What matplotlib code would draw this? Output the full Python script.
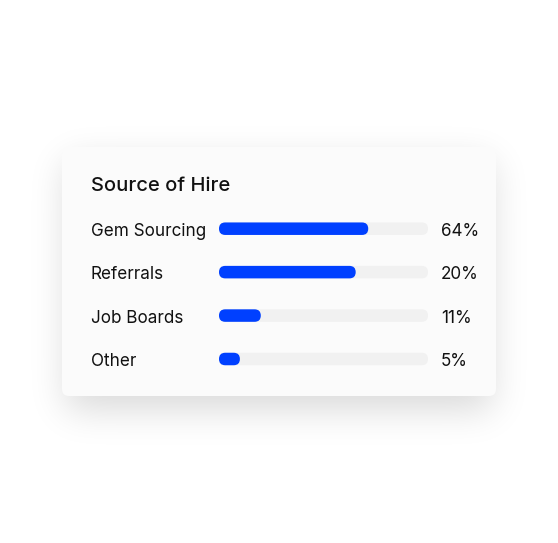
import numpy as np
import matplotlib
matplotlib.use("Agg")
import matplotlib.pyplot as plt
from matplotlib.patches import FancyBboxPatch
from matplotlib.transforms import blended_transform_factory

# ---- data ----
title = "Source of Hire"
categories = ["Gem Sourcing", "Referrals", "Job Boards", "Other"]
value_labels = ["64%", "20%", "11%", "5%"]
bar_fill = [71.4, 65.4, 20.0, 10.0]   # filled share of each track (%)

# ---- style ----
W, H = 558, 543
BLUE = "#0040FF"
TRACK = "#F1F1F1"
CARD = "#FBFBFB"
TXT = "#111111"
FONT = ["Inter", "DejaVu Sans"]

fig = plt.figure(figsize=(W / 100, H / 100), dpi=100)
fig.patch.set_facecolor("white")

# background axes in pixel coordinates for the card and its shadow
bg = fig.add_axes([0, 0, 1, 1])
bg.set_xlim(0, W)
bg.set_ylim(H, 0)
bg.axis("off")

card_x0, card_y0, card_x1, card_y1 = 62, 147, 496, 396

# soft shadow: blurred rectangle
def gauss_blur(a, sigma):
    r = int(3 * sigma)
    k = np.exp(-0.5 * (np.arange(-r, r + 1) / sigma) ** 2)
    k /= k.sum()
    a = np.apply_along_axis(lambda m: np.convolve(m, k, mode="same"), 0, a)
    a = np.apply_along_axis(lambda m: np.convolve(m, k, mode="same"), 1, a)
    return a

mask = np.zeros((H, W))
off = 14
mask[card_y0 + off:card_y1 + off, card_x0 + 4:card_x1 - 4] = 1.0
sh = gauss_blur(mask, 18)
rgba = np.zeros((H, W, 4))
rgba[..., 3] = sh * 0.15
bg.imshow(rgba, extent=(0, W, H, 0), interpolation="bilinear", zorder=1)
bg.set_xlim(0, W)
bg.set_ylim(H, 0)

card = FancyBboxPatch((card_x0, card_y0), card_x1 - card_x0, card_y1 - card_y0,
                      boxstyle="round,pad=0,rounding_size=7",
                      facecolor=CARD, edgecolor="none", zorder=2)
bg.add_patch(card)

bg.text(91, 191, title, fontsize=14.5, fontweight="medium", color=TXT,
        family=FONT, va="baseline", ha="left", zorder=3)

# bar axes: x 0..100 across the track, rows 0..3
track_left, track_right = 219, 428
row_top, row_bot = 228.7, 359.0
n = len(categories)
step = (row_bot - row_top) / (n - 1)
ax_top = row_top - step / 2
ax_h = step * n
ax = fig.add_axes([track_left / W, 1 - (ax_top + ax_h) / H,
                   (track_right - track_left) / W, ax_h / H])
ax.set_xlim(0, 100)
ax.set_ylim(n - 0.5, -0.5)
ax.axis("off")
ax.patch.set_alpha(0)

bar_px = 12.5
px_x = 100 / (track_right - track_left)
px_y = 1 / step
bh = bar_px * px_y
r = (bar_px / 2) * px_x
aspect = px_y / px_x

for i, v in enumerate(bar_fill):
    ax.add_patch(FancyBboxPatch((0, i - bh / 2), 100, bh,
                                boxstyle=f"round,pad=0,rounding_size={r}",
                                mutation_aspect=aspect,
                                facecolor=TRACK, edgecolor="none", zorder=2))
    ax.add_patch(FancyBboxPatch((0, i - bh / 2), v, bh,
                                boxstyle=f"round,pad=0,rounding_size={r}",
                                mutation_aspect=aspect,
                                facecolor=BLUE, edgecolor="none", zorder=3))

tr_lab = blended_transform_factory(fig.transFigure, ax.transData)
base_off = 7 * px_y
for i, (cat, lab) in enumerate(zip(categories, value_labels)):
    ax.text(91 / W, i + base_off, cat, transform=tr_lab, fontsize=12.3, color=TXT,
            family=FONT, va="baseline", ha="left", clip_on=False)
    ax.text(441 / W, i + base_off, lab, transform=tr_lab, fontsize=12.3, color=TXT,
            family=FONT, va="baseline", ha="left", clip_on=False)

fig.savefig("out.png", dpi=100, facecolor="white")
